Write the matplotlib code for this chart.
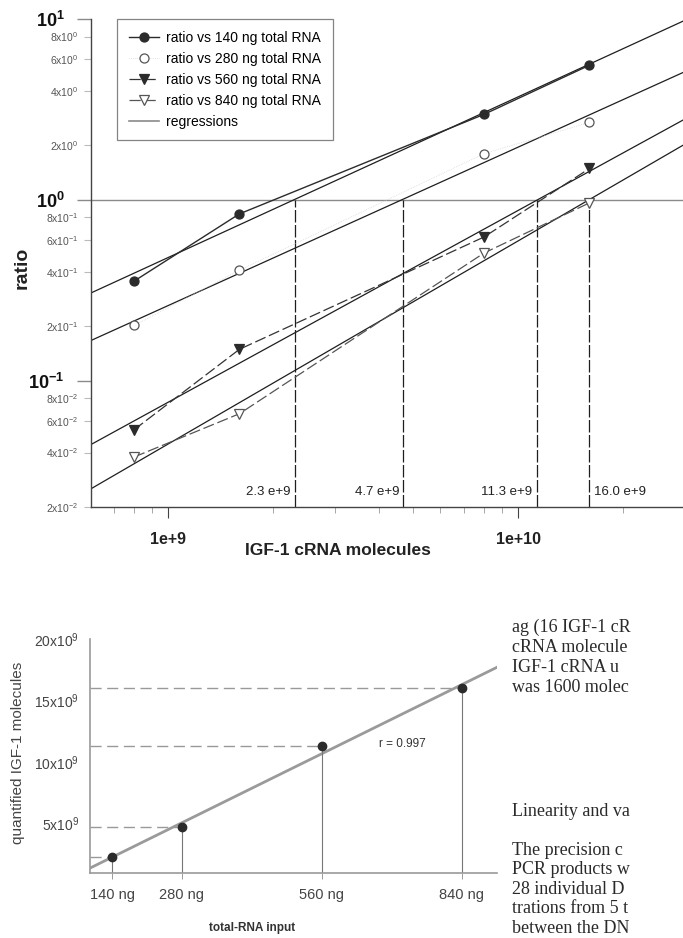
#!/usr/bin/env python3
"""IGF-1 cRNA standard curves (ratio vs molecules) and linearity of quantification."""
import matplotlib

matplotlib.use("Agg")
import matplotlib.pyplot as plt
from matplotlib.lines import Line2D
from matplotlib.ticker import FixedLocator, FixedFormatter, NullFormatter
import numpy as np

plt.rcParams["font.family"] = ["Liberation Sans", "DejaVu Sans"]
plt.rcParams["mathtext.fontset"] = "custom"
plt.rcParams["mathtext.rm"] = "Liberation Sans"
plt.rcParams["mathtext.it"] = "Liberation Sans:italic"
plt.rcParams["mathtext.bf"] = "Liberation Sans:bold"

# --- top panel data: cRNA standard molecules vs competitive ratio
CRNA_MOLECULES = [0.8e9, 1.6e9, 8.0e9, 16.0e9]
RATIO_140 = [0.355, 0.836, 2.97, 5.55]
RATIO_280 = [0.202, 0.408, 1.80, 2.68]
RATIO_560 = [0.0535, 0.149, 0.623, 1.49]
RATIO_840 = [0.0378, 0.0656, 0.508, 0.962]
SERIES_LABELS = [
    "ratio vs 140 ng total RNA",
    "ratio vs 280 ng total RNA",
    "ratio vs 560 ng total RNA",
    "ratio vs 840 ng total RNA",
]

# --- bottom panel data: total RNA input vs quantified molecules
RNA_INPUT_NG = [140, 280, 560, 840]
QUANTIFIED = [2.3e9, 4.7e9, 11.3e9, 16.0e9]
INPUT_TICK_LABELS = ["140 ng", "280 ng", "560 ng", "840 ng"]
QUANT_TICKS = [5e9, 10e9, 15e9, 20e9]
QUANT_TICK_LABELS = [r"$5\mathrm{x}10^{9}$", r"$10\mathrm{x}10^{9}$",
                     r"$15\mathrm{x}10^{9}$", r"$20\mathrm{x}10^{9}$"]

# page text to the right of the lower panel
PAGE_LINES_TOP = ["ag (16 IGF-1 cR", "cRNA molecule", "IGF-1 cRNA u", "was 1600 molec"]
PAGE_HEADING = "Linearity and va"
PAGE_LINES_BOTTOM = ["The precision c", "PCR products w", "28 individual D",
                     "trations from 5 t", "between the DN"]

W, H = 683, 938
DARK = "#2b2b2b"
GREY = "#8a8a8a"


def px_box(left, top, right, bottom):
    return [left / W, (H - bottom) / H, (right - left) / W, (bottom - top) / H]


fig = plt.figure(figsize=(W / 100, H / 100), dpi=100)

# ---------------- top panel ----------------
ax = fig.add_axes(px_box(91, 19, 683, 507))
ax.set_xscale("log")
ax.set_yscale("log")
xlo, xhi = 10 ** 8.78, 10 ** 10.4714
ax.set_xlim(xlo, xhi)
ax.set_ylim(2e-2, 10)

styles = [
    dict(marker="o", mfc=DARK, mec=DARK, ls="-", color=DARK, lw=1.0),
    dict(marker="o", mfc="white", mec="#555555", ls=":", color="#cccccc", lw=0.5),
    dict(marker="v", mfc=DARK, mec=DARK, ls=(0, (9, 3)), color="#333333", lw=0.9),
    dict(marker="v", mfc="white", mec="#555555", ls=(0, (9, 3)), color="#555555", lw=0.9),
]
series = [RATIO_140, RATIO_280, RATIO_560, RATIO_840]

ax.axhline(1.0, color=GREY, lw=1.0, zorder=1)

lx = np.log10(CRNA_MOLECULES)
xs = np.logspace(np.log10(xlo), np.log10(xhi), 60)
for vals, st in zip(series, styles):
    coef = np.polyfit(lx, np.log10(vals), 1)
    ax.plot(xs, 10 ** np.polyval(coef, np.log10(xs)), color="#1e1e1e", lw=0.9, zorder=2)
    ax.plot(CRNA_MOLECULES, vals, ms=6.5, mew=0.9, zorder=3, **st)

for i, q in enumerate(QUANTIFIED):
    ax.vlines(q, 2e-2, 1.0, colors="#1e1e1e", linestyles=(0, (10, 2)), lw=0.9, zorder=2)
    txt = f"{q / 1e9:.1f} e+9"
    last = i == len(QUANTIFIED) - 1
    ax.annotate(txt, (q, 2.25e-2), xytext=(3 if last else -3, 0), textcoords="offset points",
                ha="left" if last else "right", va="bottom", fontsize=9.5, color="#222222")

for side in ("top", "right"):
    ax.spines[side].set_visible(False)
for side in ("left", "bottom"):
    ax.spines[side].set_color("#444444")
    ax.spines[side].set_linewidth(1.0)

ax.xaxis.set_major_locator(FixedLocator([1e9, 1e10]))
ax.xaxis.set_major_formatter(FixedFormatter(["1e+9", "1e+10"]))
ax.xaxis.set_minor_formatter(NullFormatter())
ax.tick_params(axis="x", which="major", length=8, width=0.8, colors="#444444",
               labelsize=11.5, labelcolor="#222222", pad=10)
ax.tick_params(axis="x", which="minor", length=4, width=0.6, colors="#999999")
for t in ax.get_xticklabels():
    t.set_fontweight("bold")

ax.yaxis.set_major_locator(FixedLocator([1e-1, 1, 10]))
ax.yaxis.set_major_formatter(FixedFormatter([r"$\mathbf{10^{-1}}$", r"$\mathbf{10^{0}}$",
                                             r"$\mathbf{10^{1}}$"]))
minor_vals = [2e-2, 4e-2, 6e-2, 8e-2, 0.2, 0.4, 0.6, 0.8, 2, 4, 6, 8]
minor_labels = []
for v in minor_vals:
    e = int(np.floor(np.log10(v)))
    m = int(round(v / 10 ** e))
    minor_labels.append(rf"${m}\mathrm{{x}}10^{{{e}}}$")
ax.yaxis.set_minor_locator(FixedLocator(minor_vals))
ax.yaxis.set_minor_formatter(FixedFormatter(minor_labels))
ax.tick_params(axis="y", which="major", length=10, width=1.0, colors=GREY,
               labelsize=13, labelcolor="#111111", pad=9)
ax.tick_params(axis="y", which="minor", length=5, width=0.8, colors="#bbbbbb",
               labelsize=7.5, labelcolor="#555555", pad=4)

ax.set_xlabel("IGF-1 cRNA molecules", fontsize=12.5, fontweight="bold", color="#222222")
ax.xaxis.set_label_coords((338 - 91) / 592, -(543 - 507) / 488)
ax.set_ylabel("ratio", fontsize=14, fontweight="bold", color="#222222")
ax.yaxis.set_label_coords(-(91 - 31) / 592, (507 - 268) / 488)

handles = [Line2D([0], [0], label=lab, ms=6.5, mew=0.9, **st)
           for st, lab in zip(styles, SERIES_LABELS)]
handles.append(Line2D([0], [0], color=GREY, lw=1.2, label="regressions"))
leg = ax.legend(handles=handles, loc="upper left", bbox_to_anchor=((117 - 91) / 592, 1.0),
                borderaxespad=0, fontsize=10, frameon=True, fancybox=False,
                handlelength=2.2, handletextpad=0.5, labelspacing=0.5, borderpad=0.85)
leg.get_frame().set_edgecolor("#666666")
leg.get_frame().set_linewidth(0.9)

# ---------------- bottom panel ----------------
bx = fig.add_axes(px_box(90, 639, 497, 872.7))
bx.set_xlim(96, 910)
bx.set_ylim(1e9, 20e9)

coef = np.polyfit(RNA_INPUT_NG, QUANTIFIED, 1)
r = np.corrcoef(RNA_INPUT_NG, QUANTIFIED)[0, 1]
xr = np.array(bx.get_xlim())
bx.plot(xr, np.polyval(coef, xr), color="#9a9a9a", lw=2.0, zorder=2)
bx.hlines(QUANTIFIED, 96, RNA_INPUT_NG, colors="#999999", linestyles=(0, (8, 4)), lw=1.0)
bx.vlines(RNA_INPUT_NG, 1e9, QUANTIFIED, colors="#777777", lw=0.8)
bx.plot(RNA_INPUT_NG, QUANTIFIED, "o", color=DARK, ms=6, zorder=3)
bx.text(720, 11.5e9, f"r = {r:.3f}", fontsize=8.5, ha="center", va="center", color="#333333")

for side in ("top", "right"):
    bx.spines[side].set_visible(False)
for side in ("left", "bottom"):
    bx.spines[side].set_color("#9a9a9a")
    bx.spines[side].set_linewidth(1.2)
bx.set_xticks(RNA_INPUT_NG)
bx.set_xticklabels(INPUT_TICK_LABELS)
bx.set_yticks(QUANT_TICKS)
bx.set_yticklabels(QUANT_TICK_LABELS)
bx.tick_params(axis="x", length=4, width=0.7, colors="#999999", labelsize=10.5,
               labelcolor="#444444", pad=7)
bx.tick_params(axis="y", length=0, labelsize=10, labelcolor="#444444", pad=8)
bx.set_xlabel("total-RNA input", fontsize=8.5, fontweight="bold", color="#333333")
bx.xaxis.set_label_coords((252 - 90) / 407, -(922 - 872.7) / 233.7)
bx.set_ylabel("quantified IGF-1 molecules", fontsize=11, color="#444444")
bx.yaxis.set_label_coords(-(90 - 25) / 407, (872.7 - 753) / 233.7)

# ---------------- page text ----------------
serif = dict(family=["Liberation Serif", "DejaVu Serif"], fontsize=13, color="#2a2a2a",
             va="center", ha="left")
for i, line in enumerate(PAGE_LINES_TOP):
    fig.text(512 / W, 1 - (627 + 20 * i) / H, line, **serif)
fig.text(512 / W, 1 - 812 / H, PAGE_HEADING, **serif)
for i, line in enumerate(PAGE_LINES_BOTTOM):
    fig.text(512 / W, 1 - (850 + 19.5 * i) / H, line, **serif)

fig.savefig("out.png", dpi=100)
